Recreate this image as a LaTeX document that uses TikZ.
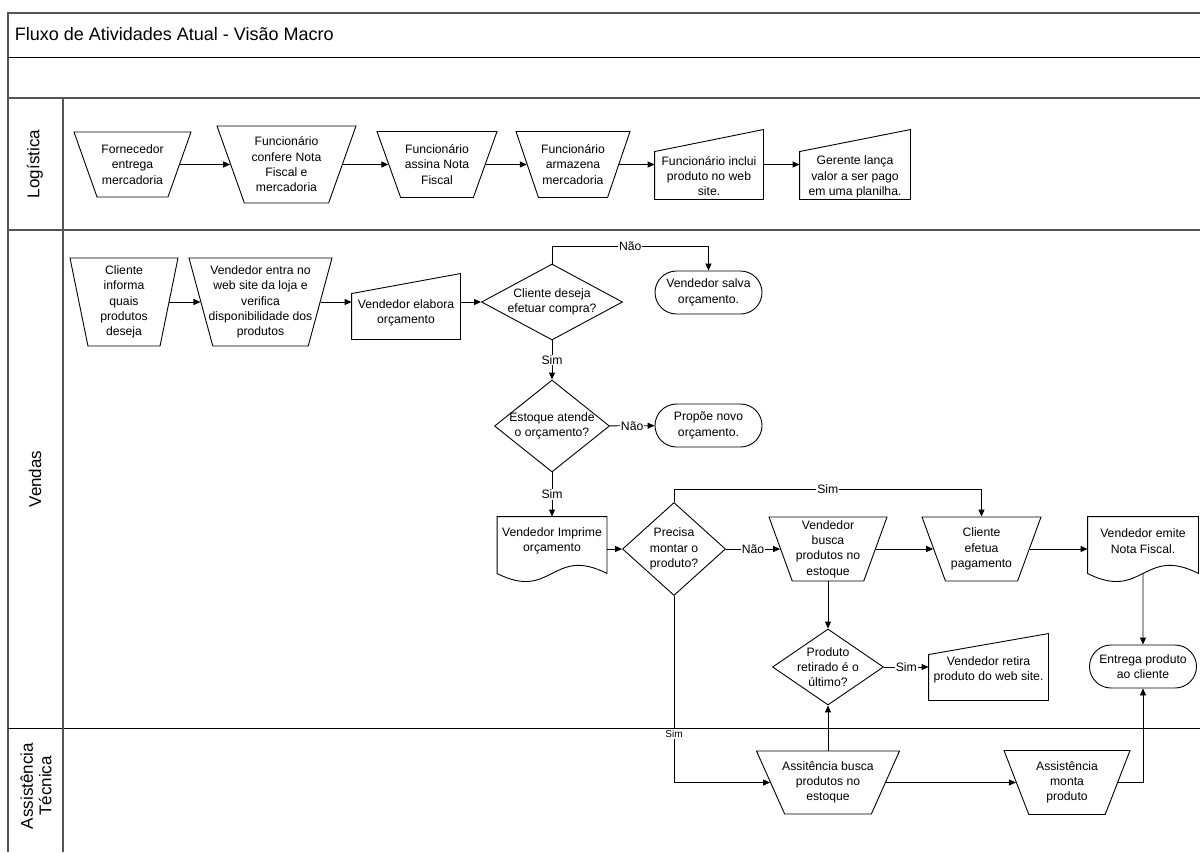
\documentclass[tikz,border=0pt]{standalone}
\usepackage{fontspec}
\setmainfont{Liberation Sans}
\usetikzlibrary{shapes.geometric, shapes.misc, arrows.meta}
\definecolor{framegray}{RGB}{85,85,85}

\begin{document}
\begin{tikzpicture}[
  x=1pt, y=-1pt,
  font=\fontsize{12.2}{15.3}\selectfont,
  line width=0.9pt,
  every label/.style={align=center, inner sep=0pt},
  sz/.style 2 args={minimum width=#1pt, minimum height=#2pt},
  frm/.style={draw=framegray, line width=1.6pt},
  manop/.style={draw, trapezium, shape border rotate=180,
    trapezium left angle=#1, trapezium right angle=#1,
    trapezium stretches=true, inner sep=2pt},
  manop/.default=72,
  manin/.style={inner sep=0pt},
  docum/.style={inner sep=0pt},
  term/.style={draw, rounded rectangle, align=center, inner sep=1pt,
    minimum width=109pt, minimum height=43pt},
  dec/.style={draw, diamond, inner sep=2pt},
  arr/.style={-{Triangle[length=7pt, width=6pt]}},
  yn/.style={fill=white, inner sep=1pt},
  lanetxt/.style={rotate=90, align=center, font=\fontsize{17}{18.5}\selectfont}
]
  \useasboundingbox (0,0) rectangle (1200,852);

  % moldura e raias
  \draw[frm] (8,852) -- (8,13) -- (1200,13);
  \draw (8,57) -- (1200,57);
  \draw[frm] (8,98) -- (1200,98);
  \draw[frm] (8,230) -- (1200,230);
  \draw (8,728) -- (1200,728);
  \draw[draw=framegray, line width=1.2pt] (63,98) -- (63,852);

  \node[anchor=west, font=\fontsize{18}{21}\selectfont] (titulo) at (11,34)
    {Fluxo de Atividades Atual - Visão Macro};
  \node[lanetxt] (logist) at (35,164) {Logística};
  \node[lanetxt] (vendas) at (35,479) {Vendas};
  \node[lanetxt] (assist) at (36,786) {Assistência\\Técnica};

  % Logistica
  \node[manop, sz={117}{65}, label={center:Fornecedor\\entrega\\mercadoria}] (n1) at (132.5,164.5) {};
  \node[manop, sz={139}{77}, label={center:Funcionário\\confere Nota\\Fiscal e\\mercadoria}] (n2) at (286.5,164.5) {};
  \node[manop, sz={120}{66}, label={center:Funcionário\\assina Nota\\Fiscal}] (n3) at (437,164.5) {};
  \node[manop, sz={114}{66}, label={center:Funcionário\\armazena\\mercadoria}] (n4) at (573,164.5) {};
  \node[manin, sz={108}{69}, label={[yshift=-11.5pt]center:Funcionário inclui\\produto no web\\site.}] (n5) at (709,164.5) {};
  \node[manin, sz={110}{69}, label={[yshift=-12.5pt]center:Gerente lança\\valor a ser pago\\em uma planilha.}] (n6) at (855,164.5) {};

  % Vendas
  \node[manop=76, sz={108}{88}, label={center:Cliente\\informa\\quais\\produtos\\deseja}] (v1) at (124,302) {};
  \node[manop=76, sz={143}{88}, label={center:Vendedor entra no\\web site da loja e\\verifica\\disponibilidade dos\\produtos}] (v2) at (260.5,302) {};
  \node[manin, sz={108}{65}, label={[yshift=-6.5pt]center:Vendedor elabora\\orçamento}] (v3) at (406,306.5) {};
  \node[dec, sz={141}{76}, label={center:Cliente deseja\\efetuar compra?}] (d1) at (552,302) {};
  \node[term] (t1) at (708.5,292.5) {Vendedor salva\\orçamento.};
  \node[dec, sz={115}{92}, label={center:Estoque atende\\o orçamento?}] (d2) at (552,426) {};
  \node[term] (t2) at (708.5,425.5) {Propõe novo\\orçamento.};
  \node[docum, sz={109}{64}, label={[yshift=8pt]center:Vendedor Imprime\\orçamento}] (p1) at (552,549) {};
  \node[dec, sz={103}{93}, label={center:Precisa\\montar o\\produto?}] (d3) at (674,549) {};
  \node[manop, sz={118}{64}, label={center:Vendedor\\busca\\produtos no\\estoque}] (v4) at (828,549) {};
  \node[manop, sz={119}{64}, label={center:Cliente\\efetua\\pagamento}] (v5) at (981.5,549) {};
  \node[docum, sz={110}{64}, label={[yshift=8pt]center:Vendedor emite\\Nota Fiscal.}] (p2) at (1143,549) {};
  \node[dec, sz={111}{76}, label={center:Produto\\retirado é o\\último?}] (d4) at (828,667) {};
  \node[manin, sz={119}{66}, label={[yshift=-3pt]center:Vendedor retira\\produto do web site.}] (m3) at (988.5,667) {};
  \node[term] (t3) at (1143,666.5) {Entrega produto\\ao cliente};

  % Assistencia Tecnica
  \node[manop, sz={143}{63}, label={center:Assitência busca\\produtos no\\estoque}] (a1) at (828,782.5) {};
  \node[manop, sz={126}{64}, label={center:Assistência\\monta\\produto}] (a2) at (1067,782.5) {};

  % contornos
  \foreach \n/\r in {n5/22, n6/22, v3/20, m3/21}
    \draw (\n.south west) -- ([yshift=-\r]\n.north west) -- (\n.north east)
      -- (\n.south east) -- cycle;
  \foreach \n in {p1, p2}
    \draw (\n.north west) -- (\n.north east) -- ([yshift=8pt]\n.south east)
      .. controls ([xshift=-55pt, yshift=36pt]\n.south east)
      and ([xshift=55pt, yshift=-20pt]\n.south west) .. ([yshift=8pt]\n.south west)
      -- cycle;

  % conectores
  \draw[arr] (n1) -- (n2);
  \draw[arr] (n2) -- (n3);
  \draw[arr] (n3) -- (n4);
  \draw[arr] (n4) -- (n5);
  \draw[arr] (n5) -- (n6);

  \draw[arr] (v1) -- (v2);
  \draw[arr] (v2) -- (v2 -| v3.west);
  \draw[arr] (v3.east |- d1) -- (d1);
  \draw[arr] (d1.north) -- ++(0,-17) -| node[yn, pos=.25] {Não} (t1);
  \draw[arr] (d1) -- node[yn] {Sim} (d2);
  \draw[arr] (d2) -- node[yn] {Não} (t2);
  \draw[arr] (d2) -- node[yn] {Sim} (p1);
  \draw[arr] (p1) -- (d3);
  \draw[arr] (d3) -- node[yn] {Não} (v4);
  \draw[arr] (d3.north) -- ++(0,-13) -| node[yn, pos=.25] {Sim} (v5);
  \draw[arr] (v4) -- (v5);
  \draw[arr] (v5) -- (p2);
  \draw[arr] (v4) -- (d4);
  \draw[arr] (d4) -- node[yn] {Sim} (m3);
  \draw[arr] ([yshift=8pt]p2.south) -- (t3);
  \draw[arr] (d3.south) |- node[yn, pos=.37, font=\fontsize{10}{12}\selectfont] {Sim} (a1);
  \draw[arr] (a1) -- (d4);
  \draw[arr] (a1) -- (a2);
  \draw[arr] (a2) -| (t3);
\end{tikzpicture}
\end{document}
